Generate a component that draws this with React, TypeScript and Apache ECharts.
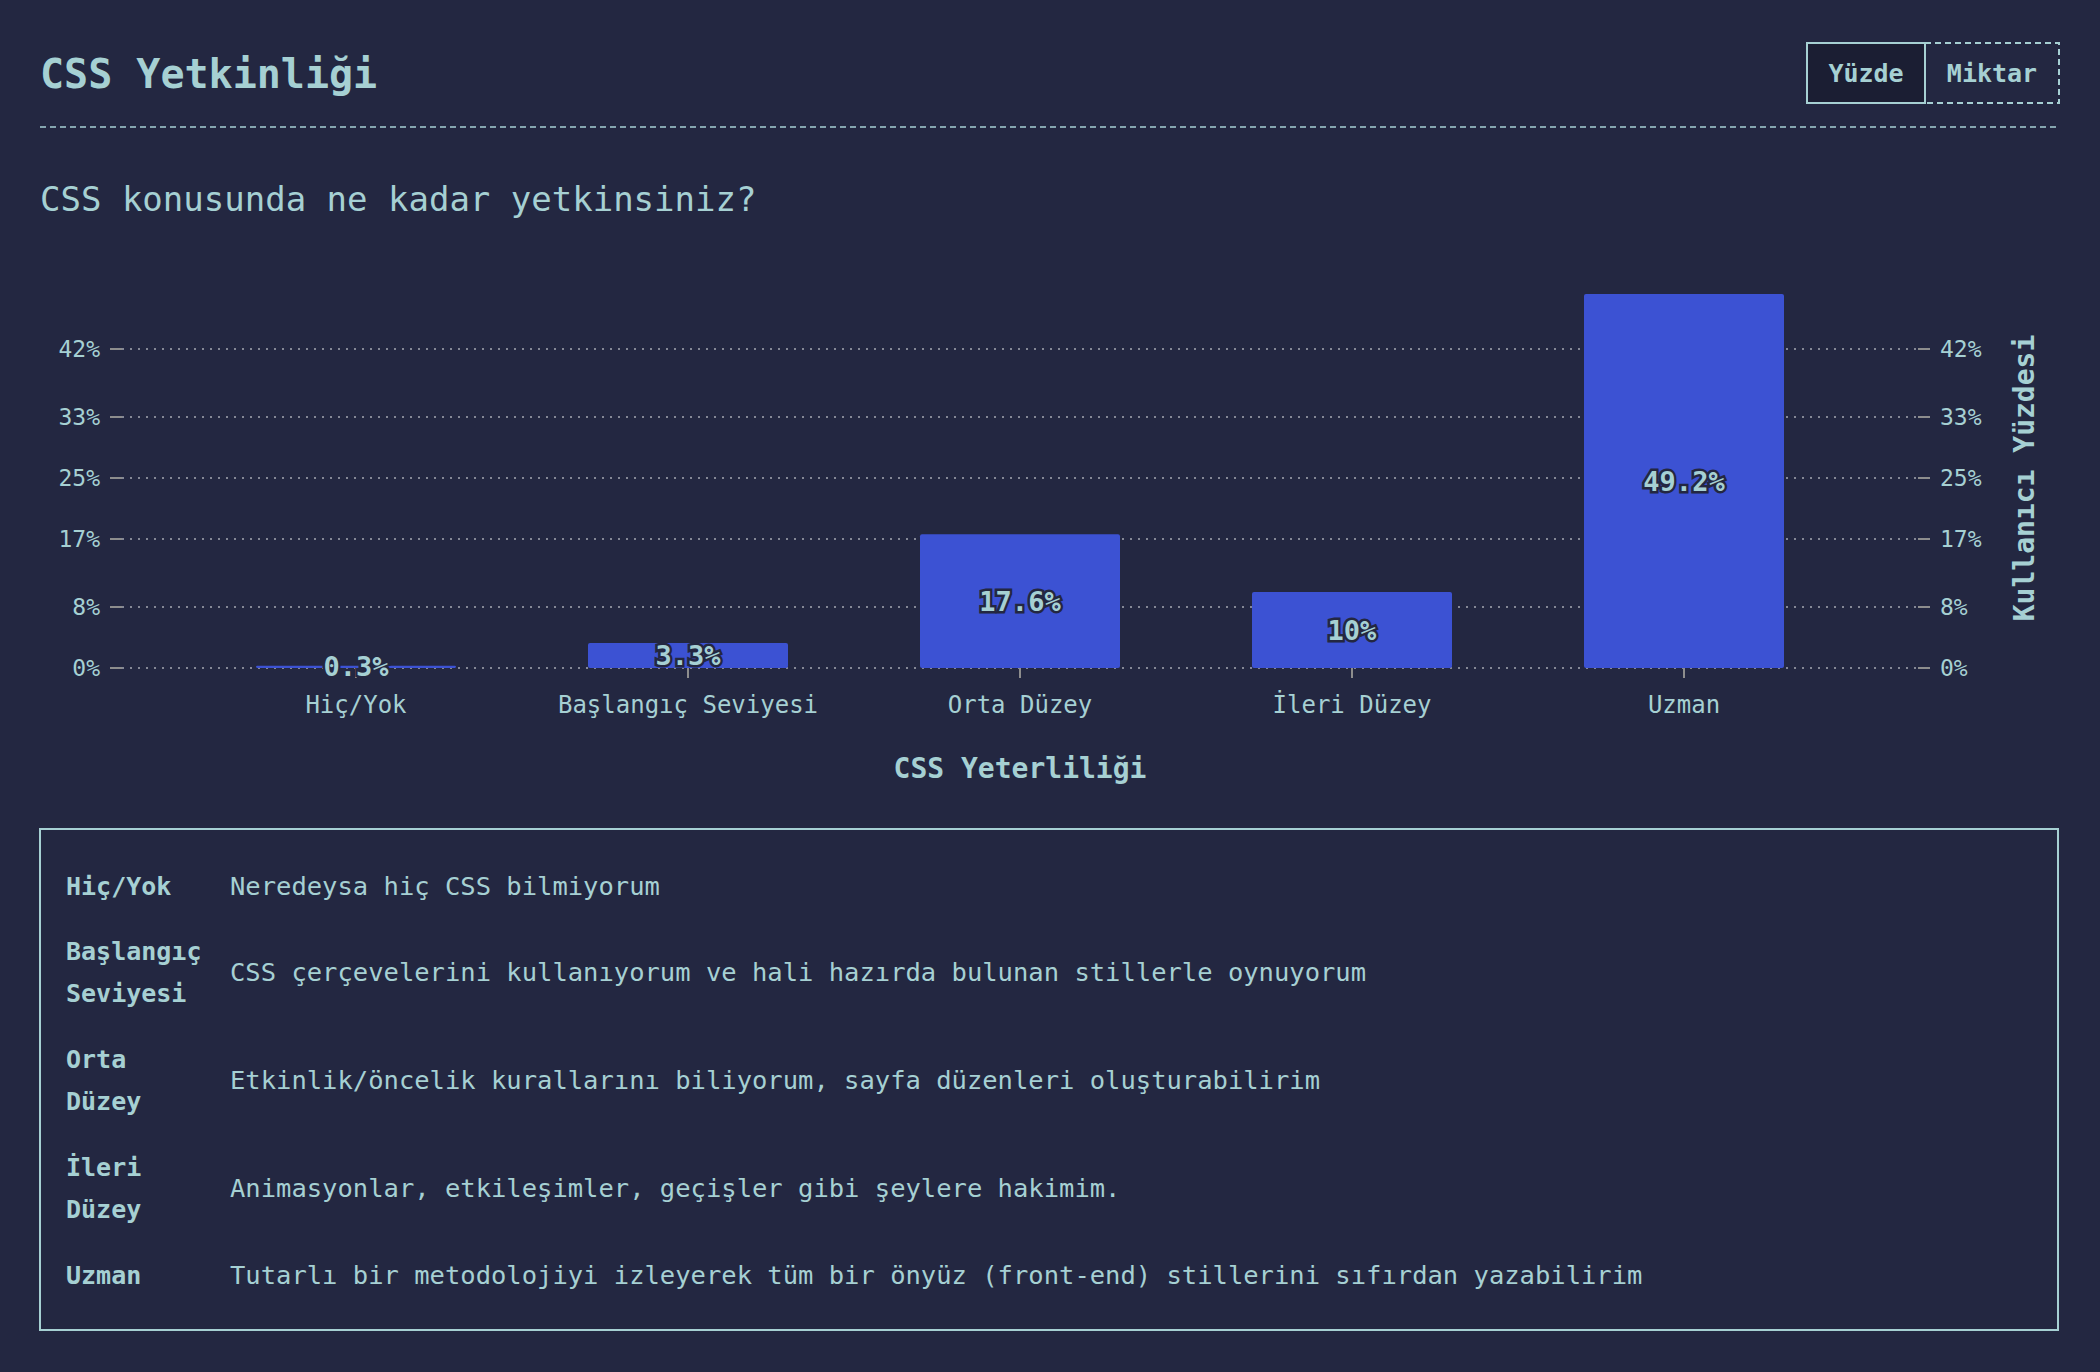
import React, { useEffect, useRef } from "react";
import * as echarts from "echarts";

const categories = ["Hiç/Yok", "Başlangıç Seviyesi", "Orta Düzey", "İleri Düzey", "Uzman"];
const percentValues = [0.3, 3.3, 17.6, 10, 49.2];
const yTickValues = [0, 8, 17, 25, 33, 42];
const descriptions = [
  "Neredeysa hiç CSS bilmiyorum",
  "CSS çerçevelerini kullanıyorum ve hali hazırda bulunan stillerle oynuyorum",
  "Etkinlik/öncelik kurallarını biliyorum, sayfa düzenleri oluşturabilirim",
  "Animasyonlar, etkileşimler, geçişler gibi şeylere hakimim.",
  "Tutarlı bir metodolojiyi izleyerek tüm bir önyüz (front-end) stillerini sıfırdan yazabilirim",
];
const titleText = "CSS Yetkinliği";
const subtitleText = "CSS konusunda ne kadar yetkinsiniz?";
const xAxisName = "CSS Yeterliliği";
const yAxisName = "Kullanıcı Yüzdesi";
const toggleLabels = ["Yüzde", "Miktar"];

const FONT = "DejaVu Sans Mono";
const BG = "#232741";
const TEAL = "#a6d0d3";
const BAR = "#3c52d3";
const GRID_GRAY = "#858896";
const TICK_GRAY = "#8d8d8d";

export default function App() {
  const ref = useRef<HTMLDivElement>(null);

  useEffect(() => {
    if (!ref.current) return;
    const chart = echarts.init(ref.current, null, { renderer: "svg" });

    const rowY = [886, 972, 1080, 1188, 1275];
    const legendTexts: any[] = [];
    categories.forEach((c, i) => {
      legendTexts.push({
        type: "text",
        x: 66,
        y: rowY[i],
        style: {
          text: c.replace(" ", "\n"),
          font: `bold 25px "${FONT}"`,
          fill: TEAL,
          verticalAlign: "middle",
          lineHeight: 42,
        },
      });
      legendTexts.push({
        type: "text",
        x: 230,
        y: rowY[i],
        style: {
          text: descriptions[i],
          font: `25.5px "${FONT}"`,
          fill: TEAL,
          verticalAlign: "middle",
        },
      });
    });

    const yAxisCommon = {
      type: "value",
      min: 0,
      max: 50,
      gridIndex: 1,
      axisLine: { show: false },
      axisTick: {
        show: true,
        length: 12,
        customValues: yTickValues,
        lineStyle: { color: TICK_GRAY, width: 2 },
      },
      axisLabel: {
        customValues: yTickValues,
        formatter: "{value}%",
        color: TEAL,
        fontFamily: FONT,
        fontSize: 23,
        margin: 22,
      },
      splitLine: { show: false },
    };

    const option: any = {
      animation: false,
      backgroundColor: BG,
      textStyle: { fontFamily: FONT },
      grid: [
        { left: 190, right: 250, top: 288, height: 380 },
        { left: 122, right: 182, top: 288, height: 380 },
      ],
      xAxis: [
        {
          type: "category",
          gridIndex: 0,
          data: categories,
          axisLine: { show: false },
          axisTick: {
            show: true,
            alignWithLabel: true,
            length: 10,
            lineStyle: { color: TICK_GRAY, width: 2 },
          },
          axisLabel: { color: TEAL, fontFamily: FONT, fontSize: 24, margin: 25, interval: 0 },
          name: xAxisName,
          nameLocation: "middle",
          nameGap: 86,
          nameTextStyle: { color: TEAL, fontFamily: FONT, fontSize: 28, fontWeight: "bold" },
        },
        { type: "value", gridIndex: 1, min: 0, max: 1, show: false },
      ],
      yAxis: [
        { type: "value", gridIndex: 0, min: 0, max: 50, show: false },
        {
          ...yAxisCommon,
          position: "left",
          splitLine: {
            show: true,
            lineStyle: { type: [2, 6], color: GRID_GRAY, width: 2 },
          },
        },
        {
          ...yAxisCommon,
          position: "right",
          name: yAxisName,
          nameLocation: "middle",
          nameRotate: 90,
          nameGap: 92,
          nameTextStyle: { color: TEAL, fontFamily: FONT, fontSize: 28, fontWeight: "bold" },
        },
      ],
      series: [
        {
          type: "bar",
          xAxisIndex: 0,
          yAxisIndex: 0,
          data: percentValues,
          barWidth: 200,
          itemStyle: { color: BAR, borderRadius: 2 },
          label: {
            show: true,
            position: "inside",
            formatter: "{c}%",
            color: TEAL,
            fontFamily: FONT,
            fontSize: 27,
            fontWeight: "bold",
            textBorderColor: BG,
            textBorderWidth: 5,
          },
          z: 3,
        },
      ],
      graphic: [
        {
          type: "text",
          x: 40,
          y: 74,
          style: { text: titleText, font: `bold 40px "${FONT}"`, fill: TEAL, verticalAlign: "middle" },
        },
        {
          type: "line",
          shape: { x1: 40, y1: 127, x2: 2058, y2: 127 },
          style: { stroke: TEAL, lineWidth: 1.5, lineDash: [6, 4] },
        },
        {
          type: "rect",
          shape: { x: 1807, y: 43, width: 118, height: 60 },
          style: { fill: "#1b1e33", stroke: TEAL, lineWidth: 2 },
        },
        {
          type: "rect",
          shape: { x: 1925, y: 43, width: 134, height: 60 },
          style: { fill: "transparent", stroke: TEAL, lineWidth: 2, lineDash: [6, 4] },
        },
        {
          type: "text",
          x: 1866,
          y: 73,
          style: { text: toggleLabels[0], font: `bold 25px "${FONT}"`, fill: TEAL, align: "center", verticalAlign: "middle" },
        },
        {
          type: "text",
          x: 1992,
          y: 73,
          style: { text: toggleLabels[1], font: `bold 25px "${FONT}"`, fill: TEAL, align: "center", verticalAlign: "middle" },
        },
        {
          type: "text",
          x: 40,
          y: 199,
          style: { text: subtitleText, font: `34px "${FONT}"`, fill: TEAL, verticalAlign: "middle" },
        },
        {
          type: "rect",
          shape: { x: 40, y: 829, width: 2018, height: 501 },
          style: { fill: "transparent", stroke: TEAL, lineWidth: 2 },
        },
        ...legendTexts,
      ],
    };

    chart.setOption(option);
    return () => chart.dispose();
  }, []);

  return (
    <div
      style={{ position: "fixed", left: 0, top: 0, width: 2100, height: 1372, background: BG }}
    >
      <div ref={ref} style={{ width: 2100, height: 1372 }} />
    </div>
  );
}
